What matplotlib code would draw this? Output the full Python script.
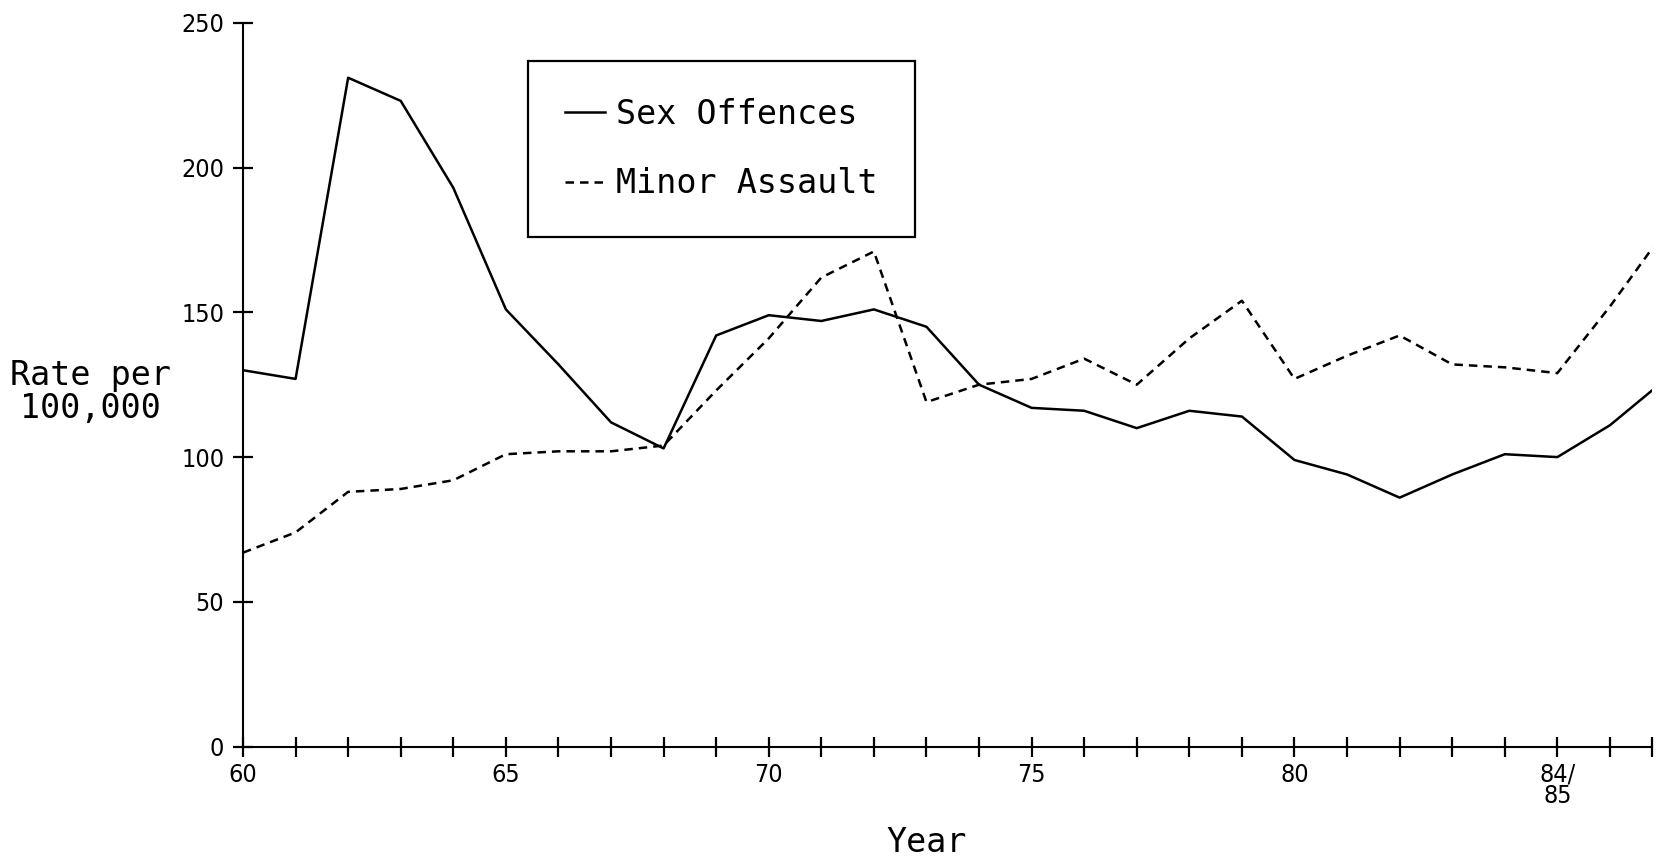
import matplotlib
matplotlib.use("Agg")
import matplotlib.pyplot as plt
from matplotlib import font_manager

# ---- data ----
years = [60, 61, 62, 63, 64, 65, 66, 67, 68, 69, 70, 71, 72, 73,
         74, 75, 76, 77, 78, 79, 80, 81, 82, 83, 84, 85, 86, 87]
sex_offences = [130, 127, 231, 223, 193, 151, 132, 112, 103, 142, 149, 147, 151, 145,
                125, 117, 116, 110, 116, 114, 99, 94, 86, 94, 101, 100, 111, 126]
minor_assault = [67, 74, 88, 89, 92, 101, 102, 102, 104, 123, 141, 162, 171, 119,
                 125, 127, 134, 125, 141, 154, 127, 135, 142, 132, 131, 129, 152, 177]
series_labels = ["Sex Offences", "Minor Assault"]
y_ticks = [0, 50, 100, 150, 200, 250]
x_label_pos = [60, 65, 70, 75, 80, 85]
x_label_txt = ["60", "65", "70", "75", "80", "84/\n85"]
x_right = 86.8

fl = font_manager.fontManager.ttflist
names = {f.name for f in fl}
has_cond = any(f.name == "DejaVu Sans" and f.stretch in ("condensed", 400) for f in fl)
if "Liberation Sans Narrow" in names:
    tick_font = dict(fontfamily="Liberation Sans Narrow")
elif has_cond:
    tick_font = dict(fontfamily="DejaVu Sans", fontstretch="condensed")
else:
    tick_font = dict(fontfamily="DejaVu Sans")
mono = "DejaVu Sans Mono"

W, H = 1667, 860
fig = plt.figure(figsize=(W / 100, H / 100), dpi=100)
ax = fig.add_axes([243 / W, 113.3 / H, (1652 - 243) / W, (746.7 - 22.7) / H])

lw = 1.8
ax.plot(years, sex_offences, color="black", lw=lw, linestyle="-", label=series_labels[0])
ax.plot(years, minor_assault, color="black", lw=lw, linestyle=(0, (3.4, 2.4)), label=series_labels[1])

ax.set_xlim(60, x_right)
ax.set_ylim(0, 250)
for s in ["top", "right"]:
    ax.spines[s].set_visible(False)
for s in ["left", "bottom"]:
    ax.spines[s].set_linewidth(1.5)

ax.set_yticks(y_ticks)
ax.set_yticklabels([str(v) for v in y_ticks], fontsize=18, **tick_font)
xt = list(range(60, 87)) + [x_right]
ax.set_xticks(xt)
ax.set_xticklabels([x_label_txt[x_label_pos.index(t)] if t in x_label_pos else "" for t in xt],
                   fontsize=18, linespacing=0.85, **tick_font)
ax.tick_params(axis="both", direction="inout", length=15, width=1.6, colors="black")
ax.tick_params(axis="y", pad=6)
ax.tick_params(axis="x", pad=4)

fig.text(90 / W, 1 - 392 / H, "Rate per\n100,000", ha="center", va="center",
         fontfamily=mono, fontsize=24, linespacing=1.0)
fig.text(927 / W, 1 - 842 / H, "Year", ha="center", va="center",
         fontfamily=mono, fontsize=24)

leg = ax.legend(loc="upper left", bbox_to_anchor=(528 / W, 1 - 61 / H),
                bbox_transform=fig.transFigure, borderaxespad=0,
                prop={"family": mono, "size": 24}, frameon=True, fancybox=False,
                borderpad=1.1, labelspacing=1.1, handlelength=1.2, handletextpad=0.35)
fr = leg.get_frame()
fr.set_edgecolor("black")
fr.set_linewidth(1.6)
fr.set_alpha(None)
fr.set_facecolor("white")

fig.savefig("out.png", dpi=100)
